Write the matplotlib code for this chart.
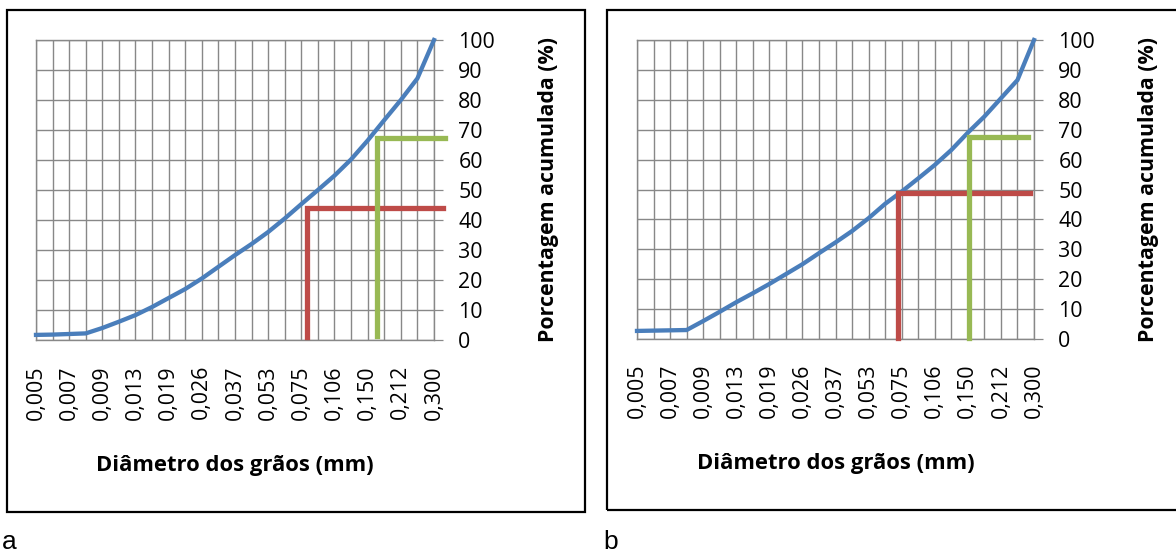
import matplotlib
matplotlib.use("Agg")
import matplotlib.pyplot as plt
from matplotlib.patches import Rectangle

plt.rcParams['font.family'] = ['Open Sans', 'DejaVu Sans']

# ---- data ----
categories = ["0,005", "0,006", "0,007", "0,008", "0,009", "0,011", "0,013", "0,016",
              "0,019", "0,022", "0,026", "0,031", "0,037", "0,045", "0,053", "0,063",
              "0,075", "0,090", "0,106", "0,125", "0,150", "0,180", "0,212", "0,250",
              "0,300"]
tick_labels = categories[::2]

curve_a = [1.7, 1.8, 2.0, 2.2, 4.0, 6.1, 8.3, 11.0, 14.0, 17.0, 20.5, 24.4, 28.3,
           32.0, 36.0, 40.5, 45.3, 50.0, 54.8, 60.2, 66.5, 73.3, 80.0, 87.2, 100.0]
curve_b = [2.7, 2.8, 2.9, 3.0, 6.0, 9.1, 12.3, 15.3, 18.4, 21.7, 25.0, 28.7, 32.3,
           36.1, 40.4, 45.2, 49.3, 53.7, 58.2, 63.2, 69.0, 74.4, 80.5, 86.6, 100.0]

# guide lines (category position, percentage)
red_a_x, red_a_y = [16.35, 16.35, 24.55], [0.9, 43.9, 43.9]
green_a_x, green_a_y = [20.55, 20.55, 24.65], [1.3, 67.2, 67.2]
red_b_x, red_b_y = [15.8, 15.8, 23.75], [0.5, 48.7, 48.7]
green_b_x, green_b_y = [20.05, 20.05, 23.65], [0.5, 67.7, 67.7]

y_ticks = list(range(0, 101, 10))
x_title = "Diâmetro dos grãos (mm)"
y_title = "Porcentagem acumulada (%)"
panel_names = ["a", "b"]

BLUE = "#4A7EBB"
RED = "#BE4B48"
GREEN = "#98B954"
GRID = "#888888"
FS = 15.4

W, H = 1176, 554
fig = plt.figure(figsize=(W / 100, H / 100), dpi=100)


def px_axes(left, top, right, bottom):
    return fig.add_axes([left / W, (H - bottom) / H, (right - left) / W, (bottom - top) / H])


def panel(ax, curve, rx, ry, gx, gy):
    pos = list(range(len(categories)))
    ax.set_xlim(0, len(categories) - 1)
    ax.set_ylim(0, 100)
    ax.set_xticks(pos[::2])
    ax.set_xticklabels(tick_labels, rotation=90, fontsize=FS)
    ax.set_xticks(pos, minor=True)
    ax.set_yticks(y_ticks)
    ax.set_yticklabels([str(v) for v in y_ticks], fontsize=FS)
    ax.yaxis.tick_right()
    ax.tick_params(axis='x', which='both', length=0, pad=18)
    ax.tick_params(axis='y', which='both', length=6.5, width=0.9, color=GRID, pad=11)
    ax.grid(True, which='both', color=GRID, linewidth=1.0)
    ax.set_axisbelow(True)
    for s in ax.spines.values():
        s.set_color(GRID)
        s.set_linewidth(1.0)
    ax.plot(pos, curve, color=BLUE, lw=3.1, solid_joinstyle='miter', zorder=3, clip_on=False)
    ax.plot(rx, ry, color=RED, lw=3.8, solid_joinstyle='miter', zorder=4, clip_on=False)
    ax.plot(gx, gy, color=GREEN, lw=3.8, solid_joinstyle='miter', zorder=4, clip_on=False)
    ax.set_xlabel(x_title, fontsize=15.8, fontweight='bold', va='center')
    ax.xaxis.set_label_coords(0.5, -0.417)
    ax.set_ylabel(y_title, fontsize=FS, fontweight='bold', rotation=90, va='center')
    ax.yaxis.set_label_position('right')
    ax.yaxis.set_label_coords(1.261, 0.5)


# panel borders
fig.patches.append(Rectangle((7 / W, (H - 512) / H), (585 - 7) / W, (512 - 10) / H,
                             transform=fig.transFigure, fill=False, ec='black', lw=1.6))
fig.patches.append(Rectangle((607 / W, (H - 510) / H), (1180 - 607) / W, (510 - 10) / H,
                             transform=fig.transFigure, fill=False, ec='black', lw=1.6))

ax_a = px_axes(36, 40, 434, 340)
panel(ax_a, curve_a, red_a_x, red_a_y, green_a_x, green_a_y)
ax_b = px_axes(637, 40, 1034, 339)
panel(ax_b, curve_b, red_b_x, red_b_y, green_b_x, green_b_y)

fig.text(2 / W, (H - 549) / H, panel_names[0], fontsize=19, va='baseline', ha='left',
         family=['Liberation Sans'])
fig.text(603 / W, (H - 549) / H, panel_names[1], fontsize=19, va='baseline', ha='left',
         family=['Liberation Sans'])

fig.savefig("out.png", dpi=100)
